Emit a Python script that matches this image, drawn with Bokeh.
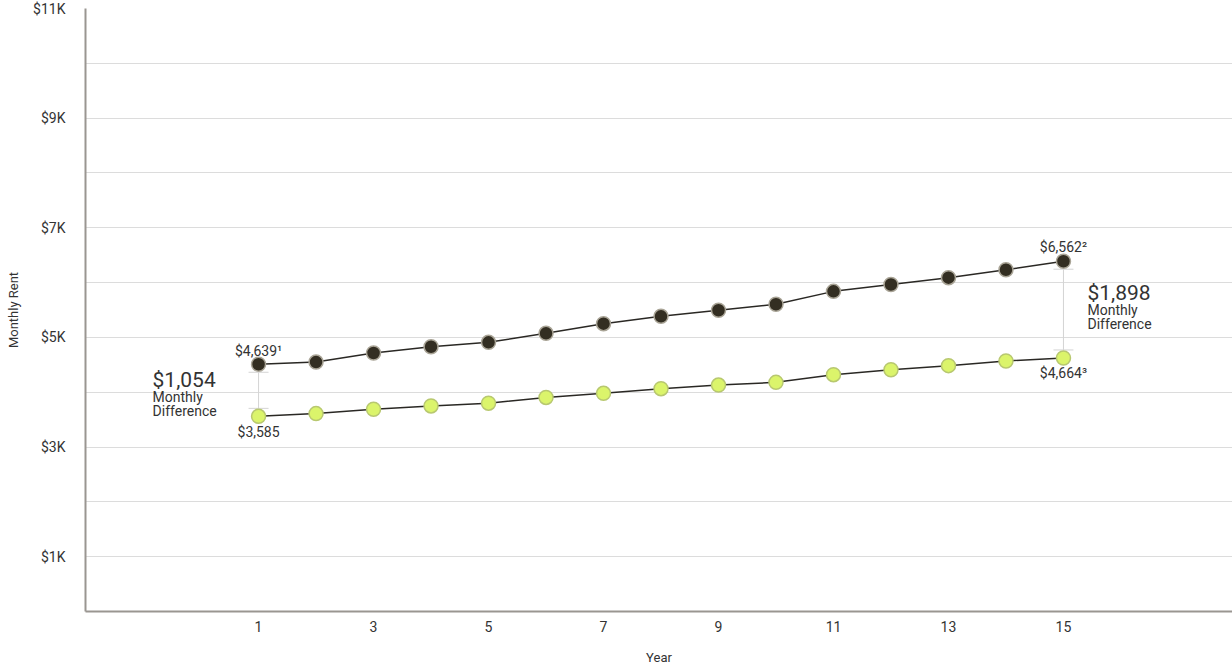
from bokeh.plotting import figure
from bokeh.models import FixedTicker, Range1d, Whisker, TeeHead, ColumnDataSource
from bokeh.core.properties import value
from bokeh.embed import file_html
from bokeh.resources import INLINE

years = list(range(1, 16))
market_rent = [4510, 4550, 4715, 4830, 4910, 5075, 5250, 5385, 5495, 5605, 5840, 5965, 6090, 6235, 6390]
program_rent = [3560, 3610, 3690, 3750, 3800, 3905, 3980, 4065, 4130, 4180, 4320, 4410, 4485, 4570, 4625]

y_ticks = [1000, 3000, 5000, 7000, 9000, 11000]
y_tick_labels = ["$1K", "$3K", "$5K", "$7K", "$9K", "$11K"]
grid_ticks = list(range(1000, 12000, 1000))
x_ticks = [1, 3, 5, 7, 9, 11, 13, 15]

start_labels = ["$4,639¹", "$3,585"]
end_labels = ["$6,562²", "$4,664³"]
start_diff = "$1,054"
end_diff = "$1,898"
diff_caption = ["Monthly", "Difference"]

FONT = "Roboto"
TXT = "#333333"

p = figure(width=1232, height=668, output_backend="svg", toolbar_location=None,
           x_range=Range1d(-2.01, 17.94), y_range=Range1d(0, 11000),
           min_border_left=85, min_border_right=0, min_border_top=8, min_border_bottom=57)
p.outline_line_color = None
p.background_fill_color = "white"
p.border_fill_color = "white"

# grids
p.xgrid.grid_line_color = None
p.ygrid.ticker = FixedTicker(ticks=grid_ticks)
p.ygrid.grid_line_color = "#dcdcdc"
p.ygrid.grid_line_width = 1

# axes
for ax in (p.xaxis[0], p.yaxis[0]):
    ax.axis_line_color = "#9a9691"
    ax.axis_line_width = 2
    ax.major_tick_line_color = None
    ax.minor_tick_line_color = None
    ax.major_label_text_font = FONT
    ax.major_label_text_font_size = "14px"
    ax.major_label_text_color = TXT
    ax.axis_label_text_font = FONT
    ax.axis_label_text_font_size = "13px"
    ax.axis_label_text_font_style = "normal"
    ax.axis_label_text_color = TXT

p.yaxis.ticker = FixedTicker(ticks=y_ticks)
p.yaxis.major_label_overrides = {t: l for t, l in zip(y_ticks, y_tick_labels)}
p.yaxis.major_label_standoff = 14
p.yaxis.axis_label = "Monthly Rent"
p.yaxis.axis_label_standoff = 9

p.xaxis.ticker = FixedTicker(ticks=x_ticks)
p.xaxis.major_label_standoff = 3
p.xaxis.axis_label = "Year"
p.xaxis.axis_label_standoff = 15

# difference whiskers
px_per_unit = 603 / 11000
off = 8 / px_per_unit
wsrc = ColumnDataSource(dict(
    base=[years[0], years[-1]],
    upper=[market_rent[0] - off, market_rent[-1] - off],
    lower=[program_rent[0] + off, program_rent[-1] + off],
))
wh = Whisker(source=wsrc, base="base", upper="upper", lower="lower", dimension="height",
             line_color="#d4d4d4", line_width=1,
             upper_head=TeeHead(size=20, line_color="#d4d4d4", line_width=1),
             lower_head=TeeHead(size=20, line_color="#d4d4d4", line_width=1))
wh.level = "underlay"
p.add_layout(wh)

# series
p.line(years, market_rent, line_color="#2a2824", line_width=1.5)
p.line(years, program_rent, line_color="#2a2824", line_width=1.5)
p.scatter(years, market_rent, size=14, fill_color="#332e22", line_color="#a9a496", line_width=1.5)
p.scatter(years, program_rent, size=14, fill_color="#dbf46b", line_color="#b8c870", line_width=1.5)

# point labels
def txt(x, y, s, xo=0, yo=0, size="14px", align="center"):
    p.text(x=[x], y=[y], text=[s], x_offset=xo, y_offset=yo,
           text_font=value(FONT), text_font_size=size, text_color=TXT,
           text_align=align, text_baseline="middle")

txt(years[0], market_rent[0], start_labels[0], yo=-13)
txt(years[0], program_rent[0], start_labels[1], yo=16)
txt(years[-1], market_rent[-1], end_labels[0], yo=-14)
txt(years[-1], program_rent[-1], end_labels[1], yo=15)

mid0 = (market_rent[0] + program_rent[0]) / 2
txt(years[0], mid0, start_diff, xo=-106, yo=-10, size="21px", align="left")
txt(years[0], mid0, diff_caption[0], xo=-106, yo=7, align="left")
txt(years[0], mid0, diff_caption[1], xo=-106, yo=21, align="left")

mid1 = (market_rent[-1] + program_rent[-1]) / 2
txt(years[-1], mid1, end_diff, xo=24, yo=-17, size="21px", align="left")
txt(years[-1], mid1, diff_caption[0], xo=24, yo=0, align="left")
txt(years[-1], mid1, diff_caption[1], xo=24, yo=14, align="left")

open("out.html", "w").write(file_html(p, INLINE))
